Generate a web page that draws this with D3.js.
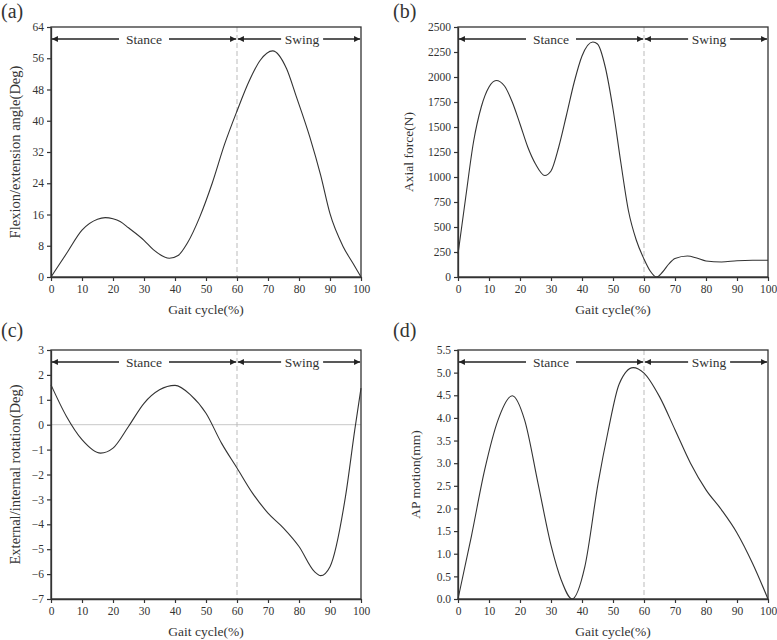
<!DOCTYPE html>
<html><head><meta charset="utf-8">
<script src="https://cdn.jsdelivr.net/npm/d3@7"></script>
<style>body{margin:0;background:#fff}svg{display:block}text{font-family:"Liberation Serif","DejaVu Serif",serif;fill:#333}</style>
</head><body><svg id="c" width="777" height="640"></svg>
<script>
const xTicks = [0,10,20,30,40,50,60,70,80,90,100];
// (a) Flexion/extension
const aX = [0,5,10,15,17.5,20,22.3,25,30,33,38.2,41,44,48,52,56,60,64,67.5,71.5,76,79,83.5,87,90,94.3,97.5,100];
const aY = [0,6,12,14.8,15.2,14.9,14.2,12.6,9.4,7,4.8,5.5,8.7,15.4,24,34,42.5,50.3,55.5,57.9,53.3,46.5,35.8,26,16.2,7.7,3.4,0];
const aTicks = [0,8,16,24,32,40,48,56,64];
// (b) Axial force
const bX = [0,2.5,5,7.5,10,12.3,15,17.5,20,22.5,25,28,30,32.5,35,37.5,40,43.5,45,47.5,50,52.5,55,57.5,60,62,64,66,68,70,74,77,80,85,90,95,100];
const bY = [230,800,1350,1700,1900,1965,1910,1750,1530,1300,1130,1015,1060,1300,1620,1950,2210,2350,2330,2100,1680,1150,660,370,180,60,0,50,130,185,210,190,160,150,163,168,168];
const bTicks = [0,250,500,750,1000,1250,1500,1750,2000,2250,2500];
// (c) Rotation
const cX = [0,5,10,16,20,25,30,35,40,45,50,55,60,65,70,75,80,85,87,90,95,98,100];
const cY = [1.6,0.33,-0.6,-1.14,-0.94,-0.07,0.86,1.4,1.58,1.2,0.46,-0.74,-1.74,-2.75,-3.55,-4.15,-4.89,-5.9,-6.06,-5.7,-2.88,-0.2,1.47];
const cTicks = [-7,-6,-5,-4,-3,-2,-1,0,1,2,3];
// (d) AP motion
const dX = [0,4.3,8.6,12.9,17.5,21.5,25.8,30.1,33.3,36.8,40.9,45.2,48.4,52,56.5,60,65,70,75,80,85,90,95,100];
const dY = [0,1.38,2.85,3.95,4.49,3.95,2.56,1.16,0.42,0,0.71,2.56,3.7,4.75,5.11,4.99,4.47,3.74,3.0,2.41,1.97,1.46,0.79,0];
const dTicks = [0,0.5,1,1.5,2,2.5,3,3.5,4,4.5,5,5.5];

const svg = d3.select("#c");
const defs = svg.append("defs");
defs.append("marker").attr("id","ah").attr("viewBox","0 0 10 10").attr("refX",10).attr("refY",5)
  .attr("markerWidth",7).attr("markerHeight",6).attr("markerUnits","userSpaceOnUse").attr("orient","auto-start-reverse")
  .append("path").attr("d","M0,0L10,5L0,10Z").attr("fill","#222");

function panel(o){
  const g = svg.append("g");
  const x = d3.scaleLinear().domain([0,100]).range([o.l,o.r]);
  const y = d3.scaleLinear().domain(o.dom).range([o.b,o.t]);
  if(o.zero){
    g.append("line").attr("x1",o.l).attr("x2",o.r).attr("y1",y(0)).attr("y2",y(0)).attr("stroke","#c8c8c8").attr("stroke-width",1);
  }
  g.append("line").attr("x1",x(60)).attr("x2",x(60)).attr("y1",o.t).attr("y2",o.b)
    .attr("stroke","#bbb").attr("stroke-dasharray","5,3").attr("stroke-width",1);
  const pts = o.xs.map((v,i)=>[v,o.ys[i]]);
  g.append("path").datum(pts).attr("fill","none").attr("stroke","#333").attr("stroke-width",1.1)
    .attr("d",d3.line().x(d=>x(d[0])).y(d=>y(d[1])).curve(d3.curveMonotoneX));
  g.append("rect").attr("x",o.l).attr("y",o.t).attr("width",o.r-o.l).attr("height",o.b-o.t)
    .attr("fill","none").attr("stroke","#333").attr("stroke-width",1.3);
  const xa = g.append("g").attr("transform",`translate(0,${o.b})`)
    .call(d3.axisBottom(x).tickValues(xTicks).tickSize(4).tickSizeOuter(0).tickPadding(4));
  const ya = g.append("g").attr("transform",`translate(${o.l},0)`)
    .call(d3.axisLeft(y).tickValues(o.ticks).tickSize(4).tickSizeOuter(0).tickPadding(3).tickFormat(o.fmt||d3.format("d")));
  [xa,ya].forEach(a=>{
    a.select(".domain").attr("stroke","#333").attr("stroke-width",1.3);
    a.selectAll(".tick line").attr("stroke","#333").attr("stroke-width",1.2);
    a.selectAll("text").attr("font-size",11.5).attr("fill","#333").style("font-family",'"Liberation Serif",serif');
  });
  const ay = o.t + 12;
  const seg = (x1,x2)=>g.append("line").attr("x1",x1).attr("x2",x2).attr("y1",ay).attr("y2",ay)
    .attr("stroke","#222").attr("stroke-width",1.3);
  const lab = (cx,t)=>g.append("text").attr("x",cx).attr("y",ay+4.5).attr("text-anchor","middle").attr("font-size",13.5).text(t);
  const sx = x(30), wx = x(81);
  seg(sx-25, x(0.3)).attr("marker-end","url(#ah)");
  seg(sx+25, x(59.7)).attr("marker-end","url(#ah)");
  seg(wx-21, x(60.3)).attr("marker-end","url(#ah)");
  seg(wx+21, x(99.7)).attr("marker-end","url(#ah)");
  lab(sx,"Stance"); lab(wx,"Swing");
  g.append("text").attr("x",(o.l+o.r)/2).attr("y",o.b+37).attr("text-anchor","middle").attr("font-size",13.5).text("Gait cycle(%)");
  g.append("text").attr("transform",`translate(${o.ytx},${(o.t+o.b)/2}) rotate(-90)`).attr("text-anchor","middle").attr("font-size",o.yfs||13.5).text(o.ytitle);
  g.append("text").attr("x",o.px).attr("y",o.py).attr("font-size",20).attr("fill","#222").text(o.plabel);
}

panel({l:51,r:361,t:27,b:277,dom:[0,64],ticks:aTicks,xs:aX,ys:aY,ytitle:"Flexion/extension angle(Deg)",ytx:20,yfs:14.5,plabel:"(a)",px:1,py:18});
panel({l:458,r:768,t:27,b:277,dom:[0,2500],ticks:bTicks,xs:bX,ys:bY,ytitle:"Axial force(N)",ytx:413,plabel:"(b)",px:393,py:18});
panel({l:51,r:361,t:350,b:599,dom:[-7,3],ticks:cTicks,xs:cX,ys:cY,ytitle:"External/internal rotation(Deg)",ytx:20,yfs:14.5,plabel:"(c)",px:1,py:337,zero:true});
panel({l:458,r:768,t:350,b:599,dom:[0,5.5],ticks:dTicks,xs:dX,ys:dY,ytitle:"AP motion(mm)",ytx:420,plabel:"(d)",px:393,py:337,fmt:d3.format(".1f")});
</script></body></html>
